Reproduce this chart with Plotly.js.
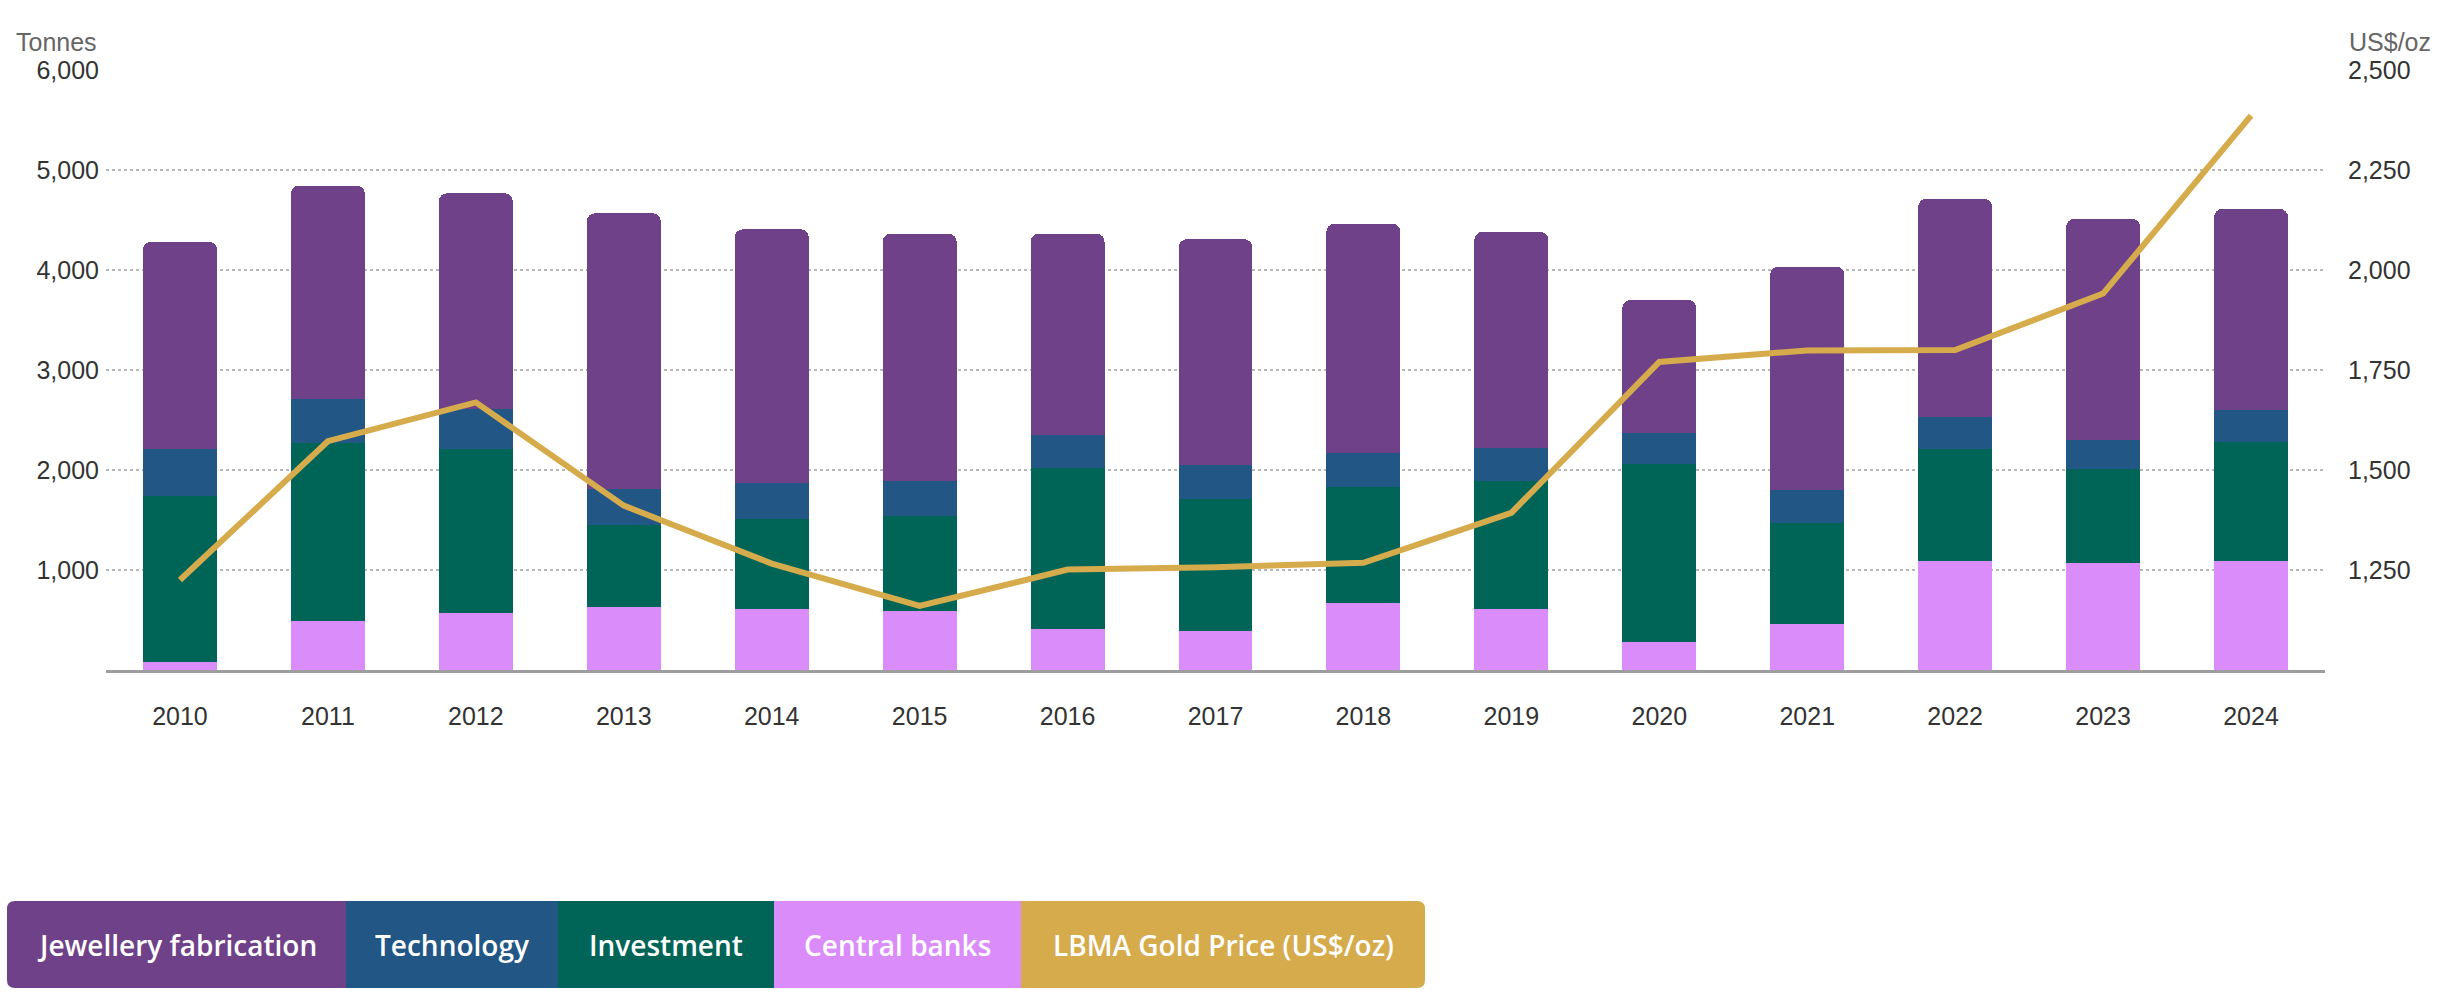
<!DOCTYPE html>
<html>
<head>
<meta charset="utf-8">
<script src="https://cdn.plot.ly/plotly-3.0.1.min.js"></script>
<style>
  html, body { margin: 0; padding: 0; background: #fff; }
  #chart { width: 2452px; height: 992px; }
</style>
</head>
<body>
<div id="chart"></div>
<script>
// ---- Data ----
const years = ['2010','2011','2012','2013','2014','2015','2016','2017','2018','2019','2020','2021','2022','2023','2024'];
const centralBanks = [85, 490, 567, 627, 607, 590, 407, 390, 667, 612, 276, 465, 1087, 1068, 1087];
const investment   = [1658, 1777, 1643, 823, 903, 953, 1616, 1317, 1160, 1279, 1785, 1005, 1119, 941, 1198];
const technology   = [464, 443, 400, 357, 357, 347, 327, 343, 343, 330, 307, 335, 320, 288, 319];
const jewellery    = [2076, 2133, 2157, 2760, 2540, 2473, 2013, 2257, 2293, 2160, 1332, 2230, 2186, 2214, 2006];
const goldPrice    = [1225, 1572, 1669, 1411, 1266, 1160, 1251, 1257, 1268, 1393, 1770, 1799, 1800, 1941, 2386];

const leftTicks  = [1000, 2000, 3000, 4000, 5000, 6000];
const rightTicks = [1250, 1500, 1750, 2000, 2250, 2500];

const legendNames  = ['Jewellery fabrication', 'Technology', 'Investment', 'Central banks', 'LBMA Gold Price (US$/oz)'];
const legendColors = ['#6F4188', '#225685', '#006557', '#DB8CFB', '#D6AB4C'];

// ---- Layout geometry (pixels) ----
const W = 2452, H = 992;
const M = { l: 106, r: 127, t: 70, b: 322 };
const plotW = W - M.l - M.r, plotH = H - M.t - M.b;
const px2x = p => (p - M.l) / plotW;
const py2y = p => (H - M.b - p) / plotH;
const legendEdges = [7, 346, 558, 774, 1021, 1425];
const legTop = 901, legBot = 988, rad = 8;

const tickFont = { family: 'Liberation Sans, Arial, sans-serif', size: 25, color: '#333333' };

const bar = (name, y, color) => ({
  type: 'bar', name: name, x: years, y: y,
  marker: { color: color, line: { width: 0 } },
  hoverinfo: 'skip'
});

const traces = [
  bar('Central banks', centralBanks, legendColors[3]),
  bar('Investment', investment, legendColors[2]),
  bar('Technology', technology, legendColors[1]),
  bar('Jewellery fabrication', jewellery, legendColors[0]),
  {
    type: 'scatter', mode: 'lines', name: 'LBMA Gold Price (US$/oz)',
    x: years, y: goldPrice, yaxis: 'y2',
    line: { color: legendColors[4], width: 6 },
    hoverinfo: 'skip'
  }
];

// legend boxes as shapes + annotations
const shapes = [];
const annotations = [];
for (let i = 0; i < legendNames.length; i++) {
  const x0 = legendEdges[i], x1 = legendEdges[i + 1];
  let path;
  const P = (a, b) => px2x(a) + ',' + py2y(b);
  if (i === 0) {
    path = 'M' + P(x1, legTop) + ' L' + P(x0 + rad, legTop) + ' Q' + P(x0, legTop) + ' ' + P(x0, legTop + rad) +
           ' L' + P(x0, legBot - rad) + ' Q' + P(x0, legBot) + ' ' + P(x0 + rad, legBot) + ' L' + P(x1, legBot) + ' Z';
  } else if (i === legendNames.length - 1) {
    path = 'M' + P(x0, legTop) + ' L' + P(x1 - rad, legTop) + ' Q' + P(x1, legTop) + ' ' + P(x1, legTop + rad) +
           ' L' + P(x1, legBot - rad) + ' Q' + P(x1, legBot) + ' ' + P(x1 - rad, legBot) + ' L' + P(x0, legBot) + ' Z';
  } else {
    path = 'M' + P(x0, legTop) + ' L' + P(x1, legTop) + ' L' + P(x1, legBot) + ' L' + P(x0, legBot) + ' Z';
  }
  shapes.push({ type: 'path', xref: 'paper', yref: 'paper', path: path,
                fillcolor: legendColors[i], line: { width: 0 }, layer: 'above' });
  annotations.push({
    xref: 'paper', yref: 'paper', x: px2x((x0 + x1) / 2), y: py2y((legTop + legBot) / 2),
    xanchor: 'center', yanchor: 'middle', showarrow: false, text: legendNames[i],
    font: { family: 'Open Sans, sans-serif', size: 28, weight: 600, color: '#ffffff' }
  });
}

// axis unit labels
annotations.push({
  xref: 'paper', yref: 'paper', x: px2x(99), y: py2y(42), xanchor: 'right', yanchor: 'middle',
  showarrow: false, text: 'Tonnes', font: { family: 'Liberation Sans, Arial, sans-serif', size: 25, color: '#666666' }
});
annotations.push({
  xref: 'paper', yref: 'paper', x: px2x(2347), y: py2y(42), xanchor: 'left', yanchor: 'middle',
  showarrow: false, text: 'US$/oz', font: { family: 'Liberation Sans, Arial, sans-serif', size: 25, color: '#666666' }
});

const layout = {
  width: W, height: H,
  margin: M,
  paper_bgcolor: '#ffffff', plot_bgcolor: '#ffffff',
  barmode: 'stack', bargap: 0.5, barcornerradius: 8,
  showlegend: false, hovermode: false,
  xaxis: {
    type: 'category', tickfont: tickFont, ticks: '', ticklabelstandoff: 22,
    showgrid: false, showline: true, linecolor: '#9e9e9e', linewidth: 3,
    fixedrange: true
  },
  yaxis: {
    range: [0, 6000], tickvals: leftTicks, tickformat: ',', tickfont: tickFont,
    ticks: '', ticklabelstandoff: 6,
    showgrid: true, gridcolor: '#b8b8b8', gridwidth: 1.5, griddash: 'dot',
    zeroline: false, showline: false, fixedrange: true
  },
  yaxis2: {
    range: [1000, 2500], tickvals: rightTicks, tickformat: ',', tickfont: tickFont,
    overlaying: 'y', side: 'right', ticks: '', ticklabelstandoff: 22,
    showgrid: false, zeroline: false, showline: false, fixedrange: true
  },
  shapes: shapes,
  annotations: annotations
};

Plotly.newPlot('chart', traces, layout, { displayModeBar: false, staticPlot: true });
</script>
</body>
</html>
